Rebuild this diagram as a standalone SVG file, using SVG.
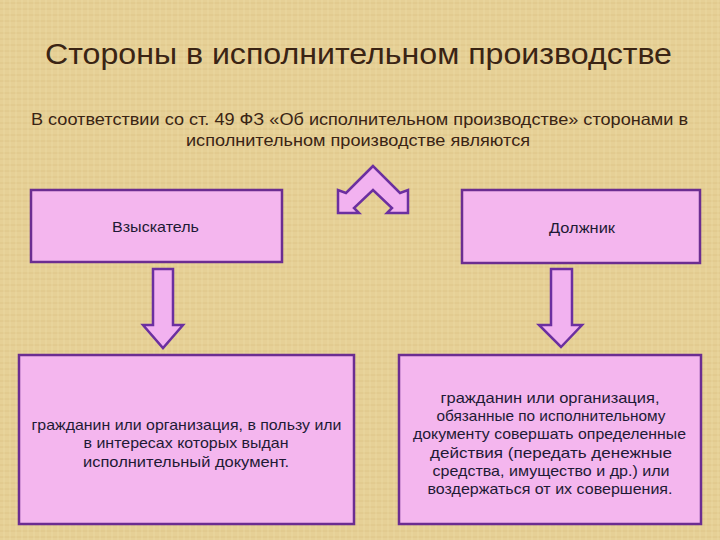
<svg xmlns="http://www.w3.org/2000/svg" width="720" height="540" viewBox="0 0 720 540">
<defs>
<pattern id="tex" width="12" height="12" patternUnits="userSpaceOnUse">
<rect width="12" height="12" fill="#E6D096"/>
<path d="M0 3H12M0 9H12" stroke="#D8BD7E" stroke-width="1" opacity="0.6"/>
<path d="M4 0V12M10 0V12" stroke="#F0DFAC" stroke-width="1" opacity="0.5"/>
</pattern>
<style>
.box{fill:#F4B6EE;stroke:#6B2D91;stroke-width:2.5}
.arr{fill:#F2B2F0;stroke:#6B2FA0;stroke-width:2.5;stroke-linejoin:miter}
.t{font-family:"Liberation Sans",Arial,sans-serif;fill:#1E1A35;font-size:14.5px;text-anchor:middle}
.h{font-family:"Liberation Sans",Arial,sans-serif;fill:#3A2414;text-anchor:middle}
</style>
</defs>
<rect width="720" height="540" fill="url(#tex)"/>
<text class="h" x="358.5" y="64" font-size="30" textLength="627" lengthAdjust="spacingAndGlyphs">Стороны в исполнительном производстве</text>
<text class="h" x="359.5" y="125" font-size="16.5" fill="#2A1A10" textLength="657" lengthAdjust="spacingAndGlyphs">В соответствии со ст. 49 ФЗ «Об исполнительном производстве» сторонами в</text>
<text class="h" x="358" y="146" font-size="16.5" fill="#2A1A10" textLength="344" lengthAdjust="spacingAndGlyphs">исполнительном производстве являются</text>
<g id="connectors">
<polygon class="arr" points="373,166 346,193 338,190 338,213 359,213 354,208 373,190 392,208 387,213 408,213 408,190 400,193"/>
<polygon class="arr" points="153,269 173,269 173,325 183,325 163,348 143,325 153,325"/>
<polygon class="arr" points="551,269 572,269 572,325 582,325 561,347 539,325 551,325"/>
</g>
<g id="vzyskatel">
<rect class="box" x="31" y="190" width="251" height="72"/>
<text class="t" x="155.5" y="232" textLength="87" lengthAdjust="spacingAndGlyphs">Взыскатель</text>
</g>
<g id="dolzhnik">
<rect class="box" x="462" y="190" width="238" height="73"/>
<text class="t" x="582" y="233" textLength="66" lengthAdjust="spacingAndGlyphs">Должник</text>
</g>
<g id="vzyskatel-def">
<rect class="box" x="19" y="355" width="335" height="169"/>
<text class="t" x="186.5" y="430" textLength="310" lengthAdjust="spacingAndGlyphs">гражданин или организация, в пользу или</text>
<text class="t" x="186" y="448" textLength="205" lengthAdjust="spacingAndGlyphs">в интересах которых выдан</text>
<text class="t" x="186" y="467" textLength="206" lengthAdjust="spacingAndGlyphs">исполнительный документ.</text>
</g>
<g id="dolzhnik-def">
<rect class="box" x="399" y="355" width="302" height="169"/>
<text class="t" x="550" y="403" textLength="219" lengthAdjust="spacingAndGlyphs">гражданин или организация,</text>
<text class="t" x="551" y="421" textLength="229" lengthAdjust="spacingAndGlyphs">обязанные по исполнительному</text>
<text class="t" x="549.5" y="439" textLength="273" lengthAdjust="spacingAndGlyphs">документу совершать определенные</text>
<text class="t" x="551" y="458" textLength="242" lengthAdjust="spacingAndGlyphs">действия (передать денежные</text>
<text class="t" x="551" y="476" textLength="237" lengthAdjust="spacingAndGlyphs">средства, имущество и др.) или</text>
<text class="t" x="550" y="494" textLength="245" lengthAdjust="spacingAndGlyphs">воздержаться от их совершения.</text>
</g>
</svg>
